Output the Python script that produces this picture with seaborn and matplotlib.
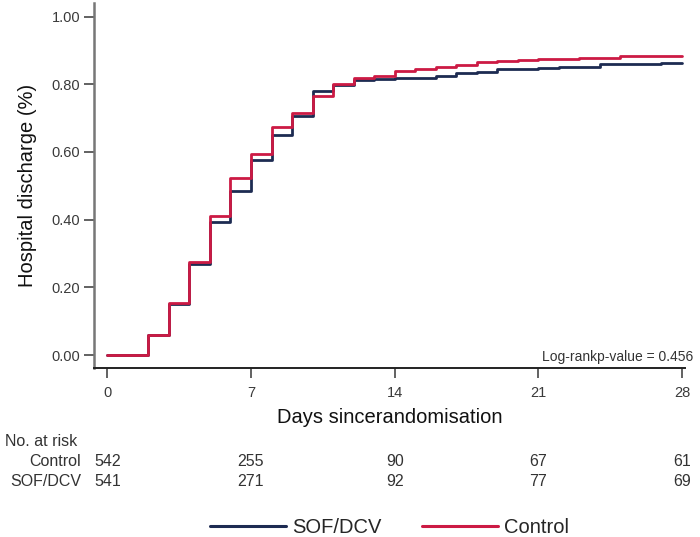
import matplotlib
matplotlib.use("Agg")
import matplotlib.pyplot as plt
import matplotlib.transforms as mtransforms
import seaborn as sns
import pandas as pd

# days since randomisation and cumulative discharge for each arm
days = list(range(0, 29))
sof_dcv = [0.0, 0.0, 0.060, 0.150, 0.270, 0.394, 0.486, 0.576, 0.650, 0.706,
           0.781, 0.797, 0.813, 0.815, 0.818, 0.818, 0.824, 0.832, 0.837, 0.844,
           0.844, 0.847, 0.850, 0.850, 0.860, 0.860, 0.860, 0.862, 0.862]
control = [0.0, 0.0, 0.058, 0.155, 0.274, 0.411, 0.522, 0.595, 0.673, 0.714,
           0.766, 0.801, 0.818, 0.825, 0.838, 0.846, 0.850, 0.857, 0.866, 0.869,
           0.871, 0.876, 0.876, 0.877, 0.877, 0.882, 0.882, 0.883, 0.883]

groups = ["SOF/DCV", "Control"]
colors = {"SOF/DCV": "#1d2b52", "Control": "#cc1a44"}

risk_days = [0, 7, 14, 21, 28]
risk_control = [542, 255, 90, 67, 61]
risk_sof_dcv = [541, 271, 92, 77, 69]

x_ticks = [0, 7, 14, 21, 28]
y_ticks = [0.0, 0.2, 0.4, 0.6, 0.8, 1.0]

df = pd.DataFrame({
    "day": days * 2,
    "discharge": sof_dcv + control,
    "group": ["SOF/DCV"] * len(days) + ["Control"] * len(days),
})

sns.set_style("ticks")
plt.rcParams["font.family"] = ["Liberation Sans", "DejaVu Sans"]

fig = plt.figure(figsize=(7, 5.37), dpi=100)
ax = fig.add_axes([94 / 700, 1 - 368 / 537, 591 / 700, 365 / 537])

sns.lineplot(data=df, x="day", y="discharge", hue="group", hue_order=groups,
             palette=colors, drawstyle="steps-post", linewidth=2.0, ax=ax,
             legend=True)

ax.set_xlim(-0.65, 28.15)
ax.set_ylim(-0.038, 1.04)
ax.set_xticks(x_ticks)
ax.set_yticks(y_ticks)
ax.set_yticklabels([f"{v:.2f}" for v in y_ticks])
ax.tick_params(axis="both", length=7, width=1.3, pad=3, labelsize=10.5,
               colors="#555555", labelcolor="#3a3a3a")
ax.tick_params(axis="x", pad=6)

for side in ["top", "right"]:
    ax.spines[side].set_visible(False)
ax.spines["left"].set_color("#777777")
ax.spines["left"].set_linewidth(1.8)
ax.spines["bottom"].set_color("#222222")
ax.spines["bottom"].set_linewidth(1.4)

ax.set_xlabel("Days sincerandomisation", fontsize=14.5, color="#111111", labelpad=6)
ax.set_ylabel("Hospital discharge (%)", fontsize=14.5, color="#111111", labelpad=10)

# log-rank annotation
fig.text(693 / 700, 1 - 361.5 / 537, "Log-rankp-value = 0.456", ha="right",
         va="baseline", fontsize=10, color="#333333")

# number at risk table
trans = mtransforms.blended_transform_factory(ax.transData, fig.transFigure)
fig.text(5 / 700, 1 - 441.7 / 537, "No. at risk", ha="left", va="center",
         fontsize=11.5, color="#333333")
fig.text(81 / 700, 1 - 461.7 / 537, "Control", ha="right", va="center",
         fontsize=11.5, color="#333333")
fig.text(81 / 700, 1 - 481 / 537, "SOF/DCV", ha="right", va="center",
         fontsize=11.5, color="#333333")
for d, n1, n2 in zip(risk_days, risk_control, risk_sof_dcv):
    ax.text(d, 1 - 461.7 / 537, str(n1), transform=trans, ha="center",
            va="center", fontsize=11.5, color="#333333", clip_on=False)
    ax.text(d, 1 - 481 / 537, str(n2), transform=trans, ha="center",
            va="center", fontsize=11.5, color="#333333", clip_on=False)

handles, labels = ax.get_legend_handles_labels()
leg = ax.legend(handles, labels, loc="center", bbox_to_anchor=(0.5, -0.438),
                ncol=2, frameon=False, fontsize=14.5, handlelength=3.8,
                handletextpad=0.3, columnspacing=2.0)
for line in leg.get_lines():
    line.set_linewidth(2.2)

fig.savefig("out.png", dpi=100)
plt.close(fig)
